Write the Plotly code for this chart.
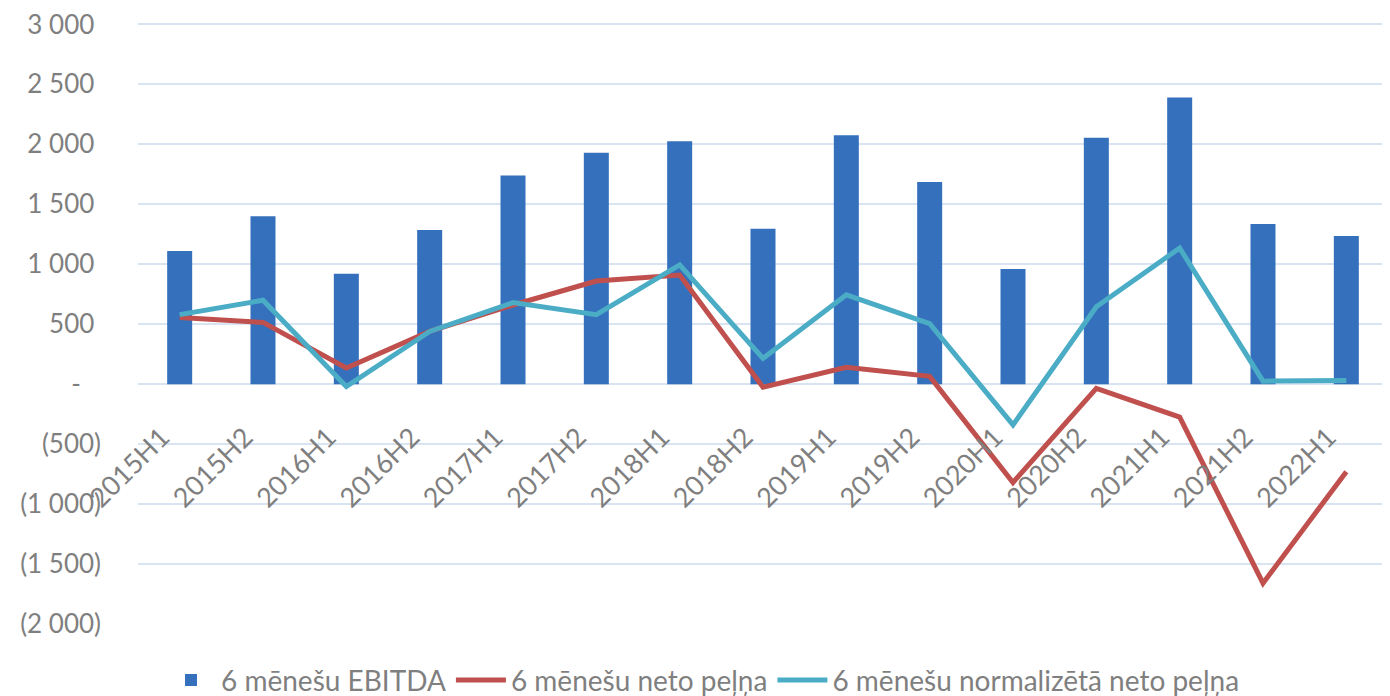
import plotly.graph_objects as go

periods = ["2015H1", "2015H2", "2016H1", "2016H2", "2017H1", "2017H2", "2018H1", "2018H2",
           "2019H1", "2019H2", "2020H1", "2020H2", "2021H1", "2021H2", "2022H1"]
ebitda = [1110, 1400, 920, 1285, 1740, 1930, 2025, 1295, 2075, 1685, 960, 2055, 2390, 1335, 1235]
net_profit = [555, 515, 135, 440, 660, 860, 910, -25, 140, 65, -820, -35, -275, -1660, -730]
norm_profit = [580, 700, -20, 440, 680, 580, 995, 215, 745, 505, -340, 645, 1135, 25, 30]

y_tickvals = [3000, 2500, 2000, 1500, 1000, 500, 0, -500, -1000, -1500, -2000]
y_ticktext = ["3 000\u00a0", "2 500\u00a0", "2 000\u00a0", "1 500\u00a0", "1 000\u00a0", "500\u00a0",
              "-\u00a0\u00a0\u00a0", "(500)", "(1 000)", "(1 500)", "(2 000)"]

FONT = "Lato"
GRAY = "#7F7F7F"

fig = go.Figure()
fig.add_trace(go.Bar(x=periods, y=ebitda, name="6 mēnešu EBITDA",
                     marker=dict(color="#3570BD", line=dict(width=0))))
fig.add_trace(go.Scatter(x=periods, y=net_profit, name="6 mēnešu neto peļņa", mode="lines",
                         line=dict(color="#C0504D", width=5)))
fig.add_trace(go.Scatter(x=periods, y=norm_profit, name="6 mēnešu normalizētā neto peļņa", mode="lines",
                         line=dict(color="#4BACC6", width=5)))

fig.update_layout(
    width=1390, height=696,
    margin=dict(l=130, r=10, t=14, b=80),
    paper_bgcolor="white", plot_bgcolor="white",
    bargap=0.70,
    font=dict(family=FONT, size=27, color=GRAY),
    xaxis=dict(anchor="free", position=0.4, showgrid=False, showline=False, zeroline=False,
               automargin=False, ticklabeloverflow="allow",
               tickangle=-45, ticks="", tickfont=dict(size=27, color=GRAY, family=FONT),
               ticklabelstandoff=32, ticklabelshift=-18),
    yaxis=dict(range=[-2000, 3020], tickvals=y_tickvals, ticktext=y_ticktext,
               automargin=False, ticklabeloverflow="allow",
               showgrid=True, gridcolor="#D9E4F2", gridwidth=2, zeroline=False, showline=False,
               ticks="", ticklabelstandoff=36, tickfont=dict(size=26, color=GRAY, family=FONT)),
    legend=dict(orientation="h", x=0.5, xanchor="center", xref="container",
                y=0.07, yanchor="top", yref="container",
                font=dict(size=28, color=GRAY, family=FONT), itemwidth=50,
                traceorder="normal"),
    showlegend=True,
)

fig.write_html("out.html")
